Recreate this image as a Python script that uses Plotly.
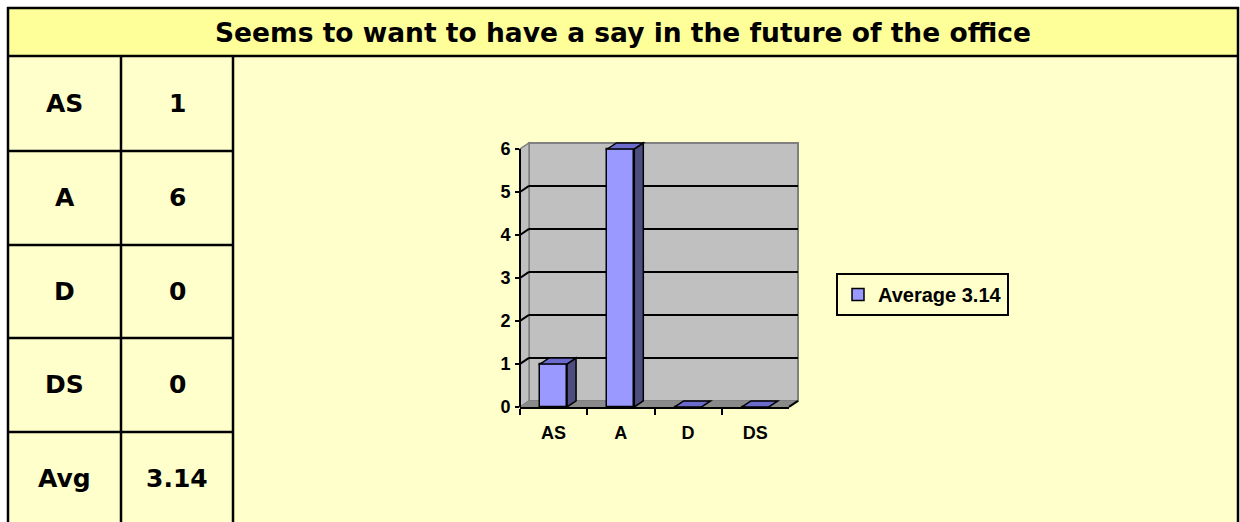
import plotly.graph_objects as go

# ---------------- data ----------------
categories = ["AS", "A", "D", "DS"]
counts = [1, 6, 0, 0]
avg_label = "Avg"
avg_value = 3.14
title_text = "Seems to want to have a say in the future of the office"
series_name = "Average 3.14"
y_tick_values = [0, 1, 2, 3, 4, 5, 6]
grid_values = [1, 2, 3, 4, 5]

# ---------------- geometry (pixels as photographed) ----------------
W, H = 1240, 522
SY = 0.981   # observed vertical scaling of the photographed page
def px(x):
    return x / W
def py(y):
    return 1 - y / SY / H

TL, TR, TT = 8, 1238, 8
COL1, COL2 = 121, 233
TITLE_B = 56
ROW_LINES = [151, 245, 338, 432]
ROW_EDGES = [TITLE_B] + ROW_LINES + [526]

FX0, FX1 = 520, 789          # front plot x extent
FY0 = 407                    # pixel of value 0
UNIT = 43.0                  # pixels per unit
YMAX = max(y_tick_values)
FYTOP = FY0 - YMAX * UNIT    # pixel of max tick
YRANGE_TOP = YMAX + 0.25     # headroom so bar tops are not clipped
DX, DY = 9, 6                # depth offset

CAT_W = (FX1 - FX0) / len(categories)
ddx = DX / CAT_W
ddy = DY / UNIT
BAR_W = 0.4

FONT_TABLE = "DejaVu Sans"
FONT_CHART = "Liberation Sans, Arial"

fig = go.Figure()

# back wall subplot (xy) - holds the gridlines
fig.add_trace(go.Scatter(x=categories, y=[None] * len(categories), xaxis="x", yaxis="y",
                         showlegend=False, hoverinfo="skip", mode="markers"))
# front subplot (x2y2) - bars
fig.add_trace(go.Bar(x=categories, y=counts, xaxis="x2", yaxis="y2", width=BAR_W,
                     name=series_name, showlegend=True,
                     marker=dict(color="#9999FF", line=dict(color="black", width=1.5))))

shapes = []
annotations = []

# table backgrounds
shapes.append(dict(type="rect", xref="paper", yref="paper", x0=px(TL), x1=px(TR),
                   y0=py(TITLE_B), y1=py(H + 30), fillcolor="#FFFFCC", line=dict(width=0), layer="below"))
shapes.append(dict(type="rect", xref="paper", yref="paper", x0=px(TL), x1=px(TR),
                   y0=py(TITLE_B), y1=py(TT), fillcolor="#FFFF99", line=dict(width=0), layer="below"))

def ppath(pts):
    return "M " + " L ".join(f"{px(a):.6f},{py(b):.6f}" for a, b in pts) + " Z"

# back wall
shapes.append(dict(type="path", xref="paper", yref="paper",
                   path=ppath([(FX0 + DX, FY0 - DY), (FX1 + DX, FY0 - DY), (FX1 + DX, FYTOP - DY), (FX0 + DX, FYTOP - DY)]),
                   fillcolor="#C0C0C0", line=dict(color="#808080", width=2), layer="below"))
# left wall
shapes.append(dict(type="path", xref="paper", yref="paper",
                   path=ppath([(FX0, FY0), (FX0 + DX, FY0 - DY), (FX0 + DX, FYTOP - DY), (FX0, FYTOP)]),
                   fillcolor="#C0C0C0", line=dict(color="#808080", width=1.5), layer="below"))
# floor
shapes.append(dict(type="path", xref="paper", yref="paper",
                   path=ppath([(FX0, FY0), (FX1, FY0), (FX1 + DX, FY0 - DY), (FX0 + DX, FY0 - DY)]),
                   fillcolor="#8A8A8A", line=dict(width=0), layer="below"))
# right floor edge
shapes.append(dict(type="line", xref="paper", yref="paper", x0=px(FX1), y0=py(FY0),
                   x1=px(FX1 + DX), y1=py(FY0 - DY), line=dict(color="black", width=2), layer="above"))

# left-wall diagonal gridlines
for v in grid_values:
    shapes.append(dict(type="line", xref="paper", yref="y2", ysizemode="pixel", yanchor=v,
                       x0=px(FX0), x1=px(FX0 + DX), y0=0, y1=DY / SY,
                       line=dict(color="black", width=2), layer="below"))

# front y axis line (0 .. max tick)
shapes.append(dict(type="line", xref="x2 domain", yref="y2", x0=0, x1=0, y0=0, y1=YMAX,
                   line=dict(color="black", width=2), layer="above"))

# 3D faces of the bars
for i, v in enumerate(counts):
    xl, xr = i - BAR_W / 2, i + BAR_W / 2
    if v > 0:
        side = f"M {xr},0 L {xr + ddx},{ddy} L {xr + ddx},{v + ddy} L {xr},{v} Z"
        shapes.append(dict(type="path", xref="x2", yref="y2", path=side,
                           fillcolor="#4D4D80", line=dict(color="black", width=1.5), layer="above"))
    top = f"M {xl},{v} L {xr},{v} L {xr + ddx},{v + ddy} L {xl + ddx},{v + ddy} Z"
    shapes.append(dict(type="path", xref="x2", yref="y2", path=top,
                       fillcolor="#6B6BCC", line=dict(color="black", width=1.5), layer="above"))

# table lines
LW = 2.5
def hline(y, x0, x1):
    shapes.append(dict(type="line", xref="paper", yref="paper", x0=px(x0), x1=px(x1), y0=py(y), y1=py(y),
                       line=dict(color="black", width=LW), layer="above"))
def vline(x, y0, y1):
    shapes.append(dict(type="line", xref="paper", yref="paper", x0=px(x), x1=px(x), y0=py(y0), y1=py(y1),
                       line=dict(color="black", width=LW), layer="above"))

hline(TT, TL - 1, TR + 1)
hline(TITLE_B, TL, TR)
for y in ROW_LINES:
    hline(y, TL, COL2)
vline(TL, TT - 1, H + 30)
vline(TR, TT - 1, H + 30)
vline(COL1, TITLE_B, H + 30)
vline(COL2, TITLE_B, H + 30)

# table text
tfont = dict(family=FONT_TABLE, size=25, color="black", weight="bold")
annotations.append(dict(text=title_text, xref="paper", yref="paper", x=px((TL + TR) / 2),
                        y=py((TT + TITLE_B) / 2 + 1), showarrow=False, xanchor="center", yanchor="middle",
                        font=dict(family=FONT_TABLE, size=26.5, color="black", weight="bold")))
row_labels = categories + [avg_label]
row_values = [str(c) for c in counts] + [f"{avg_value:.2f}"]
for k, (lab, val) in enumerate(zip(row_labels, row_values)):
    yc = (ROW_EDGES[k] + ROW_EDGES[k + 1]) / 2
    annotations.append(dict(text=lab, xref="paper", yref="paper", x=px((TL + COL1) / 2), y=py(yc),
                            showarrow=False, xanchor="center", yanchor="middle", font=tfont))
    annotations.append(dict(text=val, xref="paper", yref="paper", x=px((COL1 + COL2) / 2), y=py(yc),
                            showarrow=False, xanchor="center", yanchor="middle", font=tfont))

cfont = dict(family=FONT_CHART, size=18, color="black", weight="bold")

fig.update_layout(
    width=W, height=H, margin=dict(l=0, r=0, t=0, b=0),
    paper_bgcolor="white", plot_bgcolor="rgba(0,0,0,0)",
    showlegend=True,
    bargap=0,
    xaxis=dict(domain=[px(FX0 + DX), px(FX1 + DX)], anchor="y", type="category",
               categoryorder="array", categoryarray=categories, range=[-0.5, len(categories) - 0.5],
               showticklabels=False, showgrid=False, showline=False, zeroline=False, ticks=""),
    yaxis=dict(domain=[py(FY0 - DY), py(FYTOP - DY)], anchor="x", range=[0, YMAX],
               tickvals=grid_values, showticklabels=False, showgrid=True, gridcolor="black",
               gridwidth=2, showline=False, zeroline=False, ticks=""),
    xaxis2=dict(domain=[px(FX0), px(FX1)], anchor="y2", type="category",
                categoryorder="array", categoryarray=categories, range=[-0.5, len(categories) - 0.5],
                tickson="boundaries", ticks="outside", ticklen=6, tickwidth=2, tickcolor="black",
                showline=True, linecolor="black", linewidth=2, showgrid=False, zeroline=False,
                tickfont=cfont, ticklabelstandoff=8),
    yaxis2=dict(domain=[py(FY0), py(FY0 - YRANGE_TOP * UNIT)], anchor="x2", range=[0, YRANGE_TOP],
                tickvals=y_tick_values, ticks="outside", ticklen=4, tickwidth=2, tickcolor="black",
                showline=False, showgrid=False, zeroline=False, tickfont=cfont, ticklabelstandoff=1),
    legend=dict(x=px(836), y=py(273), xanchor="left", yanchor="top",
                bgcolor="#FFFFCC", bordercolor="black", borderwidth=2,
                font=dict(family=FONT_CHART, size=20, color="black", weight="bold"),
                itemwidth=30, tracegroupgap=0),
    shapes=shapes, annotations=annotations,
)

page_fix = (
    "document.body.style.margin='0px';"
    "document.body.style.overflow='hidden';"
)

fig.write_html("out.html", config={"displayModeBar": False}, post_script=page_fix)
